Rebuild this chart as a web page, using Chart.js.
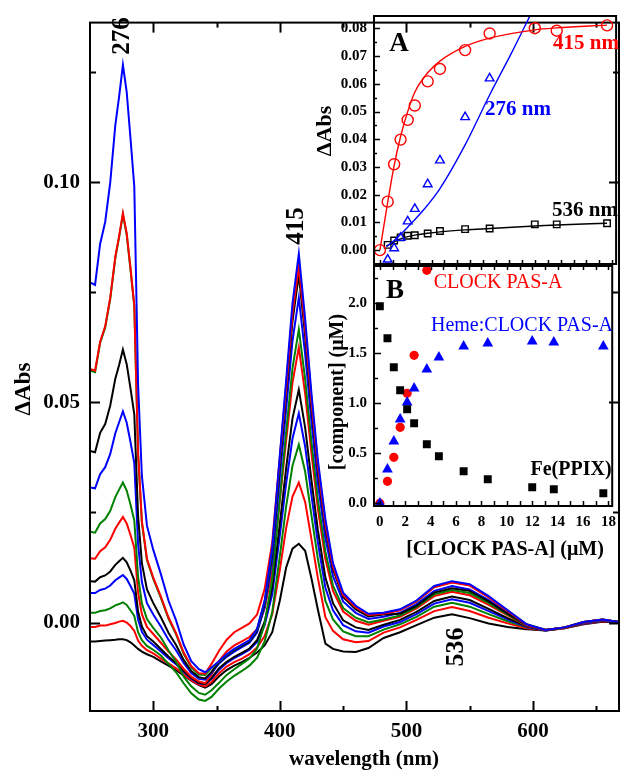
<!DOCTYPE html>
<html><head><meta charset="utf-8">
<script src="https://cdn.jsdelivr.net/npm/chart.js@4.4.1/dist/chart.umd.min.js"></script>
<style>
html,body{margin:0;padding:0;background:#fff;}
#wrap{position:relative;width:623px;height:772px;overflow:hidden;background:#fff;}
canvas{position:absolute;}
</style></head><body>
<div id="wrap">
<canvas id="main" width="623" height="772" style="left:0;top:0;width:623px;height:772px"></canvas>
<canvas id="insA" width="323" height="280" style="left:300px;top:0;width:323px;height:280px"></canvas>
<canvas id="insB" width="323" height="320" style="left:300px;top:250px;width:323px;height:320px"></canvas>
</div>
<script>
// ---------------- data: main spectra ----------------
const wavelengths = [250,254,258,262,266,270,273,276,279,282,285,288,291,295,300,306,312,318,324,330,336,341,346,352,358,364,370,376,382,388,394,400,405,410,415,420,425,430,436,442,450,460,470,482,495,508,522,536,550,565,580,595,610,625,640,655,668];
const absorbance_01 = [-0.0043,-0.0043,-0.0042,-0.0041,-0.0040,-0.0039,-0.0038,-0.0038,-0.0040,-0.0045,-0.0052,-0.0060,-0.0066,-0.0072,-0.0078,-0.0088,-0.0098,-0.0108,-0.0120,-0.0132,-0.0142,-0.0148,-0.0140,-0.0122,-0.0108,-0.0098,-0.0090,-0.0080,-0.0068,-0.0052,-0.0022,0.0050,0.0125,0.0168,0.0179,0.0163,0.0100,0.0030,-0.0048,-0.0060,-0.0066,-0.0067,-0.0058,-0.0035,-0.0022,-0.0006,0.0011,0.0019,0.0010,-0.0002,-0.0010,-0.0015,-0.0018,-0.0013,-0.0004,0.0002,0.0000];
const absorbance_02 = [-0.0010,-0.0010,-0.0007,-0.0007,-0.0004,-0.0001,0.0002,0.0004,0.0000,-0.0008,-0.0019,-0.0041,-0.0053,-0.0063,-0.0070,-0.0082,-0.0093,-0.0104,-0.0118,-0.0131,-0.0141,-0.0145,-0.0135,-0.0115,-0.0100,-0.0090,-0.0082,-0.0072,-0.0057,-0.0031,0.0019,0.0120,0.0215,0.0286,0.0318,0.0274,0.0189,0.0102,0.0012,-0.0019,-0.0038,-0.0045,-0.0042,-0.0023,-0.0011,0.0006,0.0026,0.0035,0.0026,0.0011,-0.0002,-0.0013,-0.0018,-0.0013,-0.0003,0.0003,0.0000];
const absorbance_03 = [0.0022,0.0022,0.0026,0.0028,0.0032,0.0039,0.0042,0.0046,0.0040,0.0028,0.0015,-0.0022,-0.0040,-0.0053,-0.0062,-0.0075,-0.0094,-0.0113,-0.0138,-0.0161,-0.0175,-0.0178,-0.0169,-0.0150,-0.0134,-0.0121,-0.0110,-0.0098,-0.0080,-0.0043,0.0024,0.0151,0.0264,0.0356,0.0404,0.0343,0.0243,0.0146,0.0049,0.0007,-0.0020,-0.0031,-0.0031,-0.0016,-0.0004,0.0013,0.0036,0.0045,0.0036,0.0019,0.0003,-0.0011,-0.0018,-0.0012,-0.0002,0.0004,0.0000];
const absorbance_04 = [0.0067,0.0067,0.0074,0.0077,0.0084,0.0096,0.0102,0.0108,0.0099,0.0083,0.0065,0.0007,-0.0021,-0.0039,-0.0051,-0.0066,-0.0081,-0.0095,-0.0112,-0.0127,-0.0138,-0.0140,-0.0128,-0.0107,-0.0092,-0.0081,-0.0072,-0.0062,-0.0044,-0.0006,0.0064,0.0198,0.0316,0.0418,0.0475,0.0400,0.0289,0.0183,0.0079,0.0028,-0.0006,-0.0020,-0.0023,-0.0009,0.0001,0.0019,0.0043,0.0053,0.0045,0.0026,0.0007,-0.0010,-0.0018,-0.0012,-0.0002,0.0004,0.0000];
const absorbance_05 = [0.0094,0.0093,0.0103,0.0107,0.0116,0.0131,0.0139,0.0147,0.0137,0.0118,0.0096,0.0025,-0.0009,-0.0031,-0.0043,-0.0060,-0.0077,-0.0092,-0.0110,-0.0126,-0.0137,-0.0140,-0.0126,-0.0104,-0.0089,-0.0078,-0.0069,-0.0059,-0.0040,0.0002,0.0080,0.0225,0.0351,0.0464,0.0529,0.0443,0.0323,0.0211,0.0102,0.0044,0.0005,-0.0011,-0.0017,-0.0005,0.0006,0.0024,0.0049,0.0059,0.0051,0.0031,0.0010,-0.0009,-0.0017,-0.0012,-0.0001,0.0005,0.0001];
const absorbance_06 = [0.0146,0.0145,0.0162,0.0171,0.0188,0.0213,0.0227,0.0240,0.0225,0.0199,0.0170,0.0068,0.0019,-0.0010,-0.0026,-0.0046,-0.0066,-0.0084,-0.0105,-0.0123,-0.0134,-0.0138,-0.0118,-0.0087,-0.0066,-0.0052,-0.0043,-0.0033,-0.0015,0.0032,0.0118,0.0278,0.0413,0.0545,0.0625,0.0520,0.0384,0.0260,0.0144,0.0072,0.0025,0.0004,-0.0005,0.0004,0.0013,0.0032,0.0060,0.0070,0.0062,0.0040,0.0016,-0.0008,-0.0017,-0.0012,-0.0001,0.0005,0.0001];
const absorbance_07 = [0.0206,0.0204,0.0225,0.0235,0.0254,0.0285,0.0302,0.0318,0.0300,0.0268,0.0232,0.0104,0.0043,0.0008,-0.0012,-0.0034,-0.0063,-0.0089,-0.0123,-0.0145,-0.0160,-0.0164,-0.0154,-0.0137,-0.0119,-0.0106,-0.0094,-0.0082,-0.0059,-0.0003,0.0100,0.0282,0.0433,0.0578,0.0666,0.0553,0.0410,0.0281,0.0161,0.0084,0.0033,0.0011,0.0000,0.0007,0.0016,0.0035,0.0064,0.0074,0.0067,0.0044,0.0018,-0.0007,-0.0017,-0.0012,0.0000,0.0006,0.0001];
const absorbance_08 = [0.0307,0.0305,0.0337,0.0353,0.0383,0.0430,0.0455,0.0480,0.0454,0.0410,0.0362,0.0178,0.0092,0.0044,0.0018,-0.0009,-0.0039,-0.0063,-0.0092,-0.0115,-0.0128,-0.0130,-0.0115,-0.0093,-0.0078,-0.0066,-0.0056,-0.0046,-0.0023,0.0035,0.0141,0.0330,0.0485,0.0640,0.0738,0.0610,0.0456,0.0318,0.0192,0.0105,0.0048,0.0022,0.0008,0.0013,0.0022,0.0042,0.0072,0.0083,0.0075,0.0051,0.0022,-0.0006,-0.0017,-0.0011,0.0000,0.0006,0.0001];
const absorbance_09 = [0.0390,0.0387,0.0431,0.0451,0.0493,0.0554,0.0585,0.0620,0.0587,0.0532,0.0473,0.0242,0.0135,0.0075,0.0044,0.0012,-0.0023,-0.0051,-0.0085,-0.0110,-0.0124,-0.0127,-0.0112,-0.0090,-0.0075,-0.0063,-0.0053,-0.0043,-0.0019,0.0043,0.0156,0.0356,0.0519,0.0684,0.0790,0.0652,0.0489,0.0345,0.0214,0.0121,0.0058,0.0030,0.0014,0.0018,0.0020,0.0038,0.0068,0.0078,0.0072,0.0048,0.0020,-0.0005,-0.0017,-0.0011,0.0001,0.0007,0.0001];
const absorbance_10 = [0.0576,0.0572,0.0638,0.0673,0.0738,0.0831,0.0878,0.0930,0.0884,0.0805,0.0721,0.0385,0.0230,0.0145,0.0102,0.0059,0.0012,-0.0024,-0.0068,-0.0099,-0.0115,-0.0116,-0.0094,-0.0064,-0.0039,-0.0022,-0.0012,-0.0002,0.0018,0.0076,0.0182,0.0376,0.0532,0.0702,0.0810,0.0668,0.0502,0.0356,0.0223,0.0127,0.0062,0.0034,0.0017,0.0020,0.0028,0.0048,0.0080,0.0091,0.0084,0.0057,0.0026,-0.0005,-0.0017,-0.0011,0.0001,0.0007,0.0001];
const absorbance_11 = [0.0573,0.0569,0.0635,0.0670,0.0735,0.0828,0.0875,0.0927,0.0881,0.0802,0.0718,0.0382,0.0227,0.0142,0.0099,0.0056,0.0009,-0.0027,-0.0071,-0.0102,-0.0118,-0.0119,-0.0103,-0.0089,-0.0073,-0.0061,-0.0051,-0.0041,-0.0016,0.0047,0.0165,0.0371,0.0539,0.0710,0.0820,0.0676,0.0509,0.0361,0.0227,0.0130,0.0064,0.0035,0.0018,0.0021,0.0029,0.0048,0.0081,0.0092,0.0085,0.0058,0.0027,-0.0004,-0.0017,-0.0011,0.0001,0.0007,0.0001];
const absorbance_12 = [0.0773,0.0767,0.0860,0.0910,0.1000,0.1130,0.1195,0.1267,0.1205,0.1100,0.0990,0.0540,0.0333,0.0220,0.0165,0.0110,0.0050,0.0005,-0.0050,-0.0088,-0.0106,-0.0113,-0.0102,-0.0088,-0.0072,-0.0060,-0.0050,-0.0040,-0.0015,0.0050,0.0170,0.0380,0.0550,0.0725,0.0838,0.0690,0.0520,0.0370,0.0235,0.0135,0.0068,0.0038,0.0020,0.0022,0.0030,0.0050,0.0083,0.0094,0.0087,0.0060,0.0028,-0.0004,-0.0017,-0.0011,0.0001,0.0007,0.0001];
const mainXTicks = [300,400,500,600];
const mainYTicks = [0, 0.05, 0.10];
const mainYLabels = ['0.00','0.05','0.10'];

// ---------------- data: inset A ----------------
const concA415 = [0, 0.6, 1.1, 1.6, 2.15, 2.7, 3.7, 4.65, 6.6, 8.5, 12.0, 13.7, 17.6];
const dAbs415 = [0.0, 0.0175, 0.0310, 0.0399, 0.0470, 0.0522, 0.0609, 0.0654, 0.0722, 0.0782, 0.0801, 0.0792, 0.0811];
const fit415 = [0.0, 0.0172, 0.0305, 0.0410, 0.0500, 0.0570, 0.0640, 0.0682, 0.0735, 0.0765, 0.0795, 0.0802, 0.0812];
const concA276 = [0.6, 1.1, 1.6, 2.15, 2.7, 3.7, 4.65, 6.6, 8.5];
const dAbs276 = [-0.0034, 0.0007, 0.0045, 0.0104, 0.0149, 0.0238, 0.0324, 0.0480, 0.0620];
const fitConc276 = [0.5, 1.1, 1.6, 2.15, 2.7, 3.7, 4.65, 6.6, 8.5, 10.2, 11.64];
const fit276 = [0.0012, 0.0035, 0.0057, 0.0083, 0.0110, 0.0163, 0.0222, 0.0380, 0.0560, 0.0712, 0.0847];
const concA536 = [0.6, 1.1, 1.6, 2.15, 2.7, 3.7, 4.65, 6.6, 8.5, 12.0, 13.7, 17.6];
const dAbs536 = [0.0019, 0.0035, 0.0046, 0.0052, 0.0054, 0.0060, 0.0069, 0.0076, 0.0078, 0.0093, 0.0093, 0.0097];
const fitConc536 = [0.5, 1.1, 1.6, 2.15, 2.7, 3.7, 4.65, 6.6, 8.5, 12.0, 13.7, 17.6];
const fit536 = [0.0015, 0.0030, 0.0041, 0.0049, 0.0054, 0.0061, 0.0066, 0.0073, 0.0078, 0.0087, 0.0091, 0.0097];
const aYTicks = [0,0.01,0.02,0.03,0.04,0.05,0.06,0.07,0.08];
const aYLabels = ['0.00','0.01','0.02','0.03','0.04','0.05','0.06','0.07','0.08'];

// ---------------- data: inset B ----------------
const concB = [0, 0.6, 1.1, 1.6, 2.15, 2.7, 3.7, 4.65, 6.6, 8.5, 12.0, 13.7, 17.6];
const fePPIX = [1.97, 1.65, 1.36, 1.13, 0.94, 0.80, 0.59, 0.47, 0.32, 0.24, 0.16, 0.14, 0.10];
const hemeClock = [0.0, 0.34, 0.62, 0.84, 1.01, 1.15, 1.34, 1.46, 1.57, 1.60, 1.62, 1.61, 1.57];
const concBfree = [0, 0.6, 1.1, 1.6, 2.15, 2.7, 3.7];
const freeClock = [0.0, 0.22, 0.46, 0.76, 1.10, 1.48, 2.33];
const bYTicks = [0, 0.5, 1.0, 1.5, 2.0];
const bYLabels = ['0.0','0.5','1.0','1.5','2.0'];
const bXTicks = [0,2,4,6,8,10,12,14,16,18];

// ---------------- drawing ----------------
const spectra = [absorbance_01,absorbance_02,absorbance_03,absorbance_04,absorbance_05,absorbance_06,absorbance_07,absorbance_08,absorbance_09,absorbance_10,absorbance_11,absorbance_12];
spectra.forEach((s,i)=>{ if (s.length !== wavelengths.length) throw new Error('length mismatch spectrum '+(i+1)+': '+s.length); });
const cycle = ['#000000','#ff0000','#008000','#0000ff'];
const drawOrder = [11,10,9,8,7,6,5,4,3,1,2,0];
const SERIF = "'Liberation Serif','Times New Roman',serif";
const pts = (xs, ys) => xs.map((x,i)=>({x:x, y:ys[i]}));

function txt(ctx, s, x, y, font, color, rot) {
  ctx.save(); ctx.translate(x, y); if (rot) ctx.rotate(rot);
  ctx.font = font; ctx.fillStyle = color; ctx.textAlign = 'center'; ctx.textBaseline = 'middle';
  ctx.fillText(s, 0, 0); ctx.restore();
}
function range(a, b, step) { const r = []; for (let v = a; v <= b + 1e-9; v += step) r.push(+v.toFixed(6)); return r; }

function framePlugin(cfg) {
  return {
    id: 'frame_' + cfg.name,
    afterDraw(chart) {
      const ctx = chart.ctx, a = chart.chartArea, sx = chart.scales.x, sy = chart.scales.y;
      ctx.save();
      ctx.strokeStyle = '#000';
      ctx.lineWidth = cfg.tickWidth;
      cfg.ticks.forEach(t => {
        t.values.forEach(v => {
          ctx.beginPath();
          if (t.side === 'bottom' || t.side === 'top') {
            const px = Math.round(sx.getPixelForValue(v)) + 0.5;
            if (t.side === 'bottom') { ctx.moveTo(px, a.bottom); ctx.lineTo(px, a.bottom - t.len); }
            else { ctx.moveTo(px, a.top); ctx.lineTo(px, a.top + t.len); }
          } else {
            const py = Math.round(sy.getPixelForValue(v)) + 0.5;
            if (t.side === 'left') { ctx.moveTo(a.left, py); ctx.lineTo(a.left + t.len, py); }
            else { ctx.moveTo(a.right, py); ctx.lineTo(a.right - t.len, py); }
          }
          ctx.stroke();
        });
      });
      ctx.lineWidth = cfg.frameWidth;
      ctx.strokeRect(a.left, a.top, a.right - a.left, a.bottom - a.top);
      cfg.texts.forEach(t => txt(ctx, t.s, t.x - cfg.ox, t.y - cfg.oy, t.font, t.color || '#000', t.rot || 0));
      ctx.restore();
    }
  };
}

// ---------- main chart ----------
new Chart(document.getElementById('main'), {
  type: 'line',
  data: {
    datasets: spectra.map((vals, i) => ({
      label: 'titration ' + (i + 1),
      data: pts(wavelengths, vals),
      borderColor: cycle[i % 4],
      borderWidth: 2,
      pointRadius: 0,
      tension: 0,
      fill: false,
      order: drawOrder[i]
    }))
  },
  options: {
    responsive: false, animation: false, events: [],
    layout: { padding: { left: 0, right: 4, top: 14, bottom: 0 } },
    plugins: { legend: { display: false }, tooltip: { enabled: false } },
    scales: {
      x: {
        type: 'linear', position: 'bottom', min: 250, max: 668,
        grid: { display: false, drawTicks: false }, border: { display: false },
        afterBuildTicks: s => { s.ticks = mainXTicks.map(v => ({ value: v })); },
        ticks: { color: '#000', font: { family: SERIF, size: 21, weight: 'bold' }, padding: 8, maxRotation: 0, autoSkip: false, callback: v => String(v) },
        afterFit: s => { s.height = 61; }
      },
      y: {
        type: 'linear', position: 'left', min: -0.0201, max: 0.1363,
        grid: { display: false, drawTicks: false }, border: { display: false },
        afterBuildTicks: s => { s.ticks = mainYTicks.map(v => ({ value: v })); },
        ticks: { color: '#000', font: { family: SERIF, size: 21, weight: 'bold' }, padding: 10, autoSkip: false, callback: (v, i) => mainYLabels[i] },
        afterFit: s => { s.width = 90; }
      }
    }
  },
  plugins: [framePlugin({
    name: 'main', ox: 0, oy: 0, tickWidth: 2, frameWidth: 2,
    ticks: [
      { side: 'bottom', values: mainXTicks, len: 10 }, { side: 'top', values: mainXTicks, len: 10 },
      { side: 'bottom', values: [350,450,550,650], len: 5 }, { side: 'top', values: [350,450,550,650], len: 5 },
      { side: 'left', values: mainYTicks, len: 10 }, { side: 'right', values: mainYTicks, len: 10 },
      { side: 'left', values: [0.025,0.075,0.125], len: 6 }, { side: 'right', values: [0.025,0.075,0.125], len: 6 }
    ],
    texts: [
      { s: '276', x: 123, y: 36, font: 'bold 25px ' + SERIF, rot: -Math.PI / 2 },
      { s: '415', x: 297, y: 226, font: 'bold 25px ' + SERIF, rot: -Math.PI / 2 },
      { s: '536', x: 456, y: 647, font: 'bold 26px ' + SERIF, rot: -Math.PI / 2 },
      { s: 'ΔAbs', x: 24, y: 389, font: 'bold 23px ' + SERIF, rot: -Math.PI / 2 },
      { s: 'wavelength (nm)', x: 364, y: 760, font: 'bold 21px ' + SERIF }
    ]
  })]
});

// ---------- inset A ----------
new Chart(document.getElementById('insA'), {
  type: 'scatter',
  data: {
    datasets: [
      { label: '415 nm', data: pts(concA415, dAbs415), showLine: false, pointStyle: 'circle', pointRadius: 5.5, borderColor: '#ff0000', backgroundColor: 'rgba(0,0,0,0)', borderWidth: 1.4 },
      { label: '415 fit', data: pts(concA415, fit415), showLine: true, pointRadius: 0, borderColor: '#ff0000', borderWidth: 1.4, cubicInterpolationMode: 'monotone' },
      { label: '276 nm', data: pts(concA276, dAbs276), showLine: false, pointStyle: 'triangle', pointRadius: 5, borderColor: '#0000ff', backgroundColor: 'rgba(0,0,0,0)', borderWidth: 1.4 },
      { label: '276 fit', data: pts(fitConc276, fit276), showLine: true, pointRadius: 0, borderColor: '#0000ff', borderWidth: 1.4, cubicInterpolationMode: 'monotone' },
      { label: '536 nm', data: pts(concA536, dAbs536), showLine: false, pointStyle: 'rect', pointRadius: 4.6, borderColor: '#000000', backgroundColor: 'rgba(0,0,0,0)', borderWidth: 1.4 },
      { label: '536 fit', data: pts(fitConc536, fit536), showLine: true, pointRadius: 0, borderColor: '#000000', borderWidth: 1.4, cubicInterpolationMode: 'monotone' }
    ]
  },
  options: {
    responsive: false, animation: false, events: [],
    layout: { padding: { left: 0, right: 4, top: 14, bottom: 14 } },
    plugins: { legend: { display: false }, tooltip: { enabled: false } },
    scales: {
      x: { type: 'linear', min: -0.46, max: 18.3, display: false },
      y: {
        type: 'linear', position: 'left', min: -0.005, max: 0.0845,
        grid: { display: false, drawTicks: false }, border: { display: false },
        afterBuildTicks: s => { s.ticks = aYTicks.map(v => ({ value: v })); },
        ticks: { color: '#000', font: { family: SERIF, size: 15, weight: 'bold' }, padding: 7, autoSkip: false, callback: (v, i) => aYLabels[i] },
        afterFit: s => { s.width = 74; }
      }
    }
  },
  plugins: [framePlugin({
    name: 'A', ox: 300, oy: 0, tickWidth: 1.5, frameWidth: 2,
    ticks: [
      { side: 'left', values: aYTicks, len: 6 },
      { side: 'left', values: range(0.005, 0.075, 0.01), len: 3 },
      { side: 'bottom', values: range(0, 18, 1), len: 4 }
    ],
    texts: [
      { s: 'A', x: 399, y: 44, font: 'bold 27px ' + SERIF },
      { s: '415 nm', x: 586, y: 44, font: 'bold 21px ' + SERIF, color: '#ff0000' },
      { s: '276 nm', x: 518, y: 110, font: 'bold 21px ' + SERIF, color: '#0000ff' },
      { s: '536 nm', x: 585, y: 211, font: 'bold 21px ' + SERIF, color: '#000000' },
      { s: 'ΔAbs', x: 325, y: 131, font: 'bold 22px ' + SERIF, rot: -Math.PI / 2 }
    ]
  })]
});

// ---------- inset B ----------
new Chart(document.getElementById('insB'), {
  type: 'scatter',
  data: {
    datasets: [
      { label: 'Fe(PPIX)', data: pts(concB, fePPIX), pointStyle: 'rect', pointRadius: 5.6, borderColor: '#000', backgroundColor: '#000', borderWidth: 0 },
      { label: 'Heme:CLOCK PAS-A', data: pts(concB, hemeClock), pointStyle: 'triangle', pointRadius: 6.2, borderColor: '#0000ff', backgroundColor: '#0000ff', borderWidth: 0 },
      { label: 'CLOCK PAS-A', data: pts(concBfree, freeClock), pointStyle: 'circle', pointRadius: 4.6, borderColor: '#ff0000', backgroundColor: '#ff0000', borderWidth: 0 }
    ]
  },
  options: {
    responsive: false, animation: false, events: [],
    layout: { padding: { left: 0, right: 4, top: 16, bottom: 0 } },
    plugins: { legend: { display: false }, tooltip: { enabled: false } },
    scales: {
      x: {
        type: 'linear', position: 'bottom', min: -0.46, max: 18.3,
        grid: { display: false, drawTicks: false }, border: { display: false },
        afterBuildTicks: s => { s.ticks = bXTicks.map(v => ({ value: v })); },
        ticks: { color: '#000', font: { family: SERIF, size: 15, weight: 'bold' }, padding: 7, maxRotation: 0, autoSkip: false, callback: v => String(v) },
        afterFit: s => { s.height = 64; }
      },
      y: {
        type: 'linear', position: 'left', min: -0.027, max: 2.373,
        grid: { display: false, drawTicks: false }, border: { display: false },
        afterBuildTicks: s => { s.ticks = bYTicks.map(v => ({ value: v })); },
        ticks: { color: '#000', font: { family: SERIF, size: 15, weight: 'bold' }, padding: 7, autoSkip: false, callback: (v, i) => bYLabels[i] },
        afterFit: s => { s.width = 74; }
      }
    }
  },
  plugins: [framePlugin({
    name: 'B', ox: 300, oy: 250, tickWidth: 1.5, frameWidth: 2,
    ticks: [
      { side: 'left', values: bYTicks, len: 7 },
      { side: 'left', values: [0.25, 0.75, 1.25, 1.75, 2.25], len: 4 },
      { side: 'bottom', values: range(0, 18, 1), len: 5 },
      { side: 'top', values: range(0, 18, 1), len: 4 }
    ],
    texts: [
      { s: 'B', x: 395, y: 291, font: 'bold 27px ' + SERIF },
      { s: 'CLOCK PAS-A', x: 498, y: 283, font: '20px ' + SERIF, color: '#ff0000' },
      { s: 'Heme:CLOCK PAS-A', x: 522, y: 326, font: '20px ' + SERIF, color: '#0000ff' },
      { s: 'Fe(PPIX)', x: 571, y: 470, font: 'bold 20px ' + SERIF },
      { s: '[component] (μM)', x: 338, y: 392, font: 'bold 20px ' + SERIF, rot: -Math.PI / 2 },
      { s: '[CLOCK PAS-A] (μM)', x: 505, y: 550, font: 'bold 20px ' + SERIF }
    ]
  })]
});
</script>
</body></html>
